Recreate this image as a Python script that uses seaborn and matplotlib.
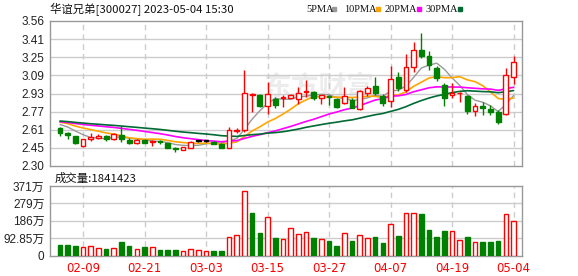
import numpy as np
import pandas as pd
import matplotlib
matplotlib.use("Agg")
import matplotlib.pyplot as plt
import seaborn as sns

# ---------------- data ----------------
dates = ["02-06", "02-07", "02-08", "02-09", "02-10", "02-13", "02-14", "02-15", "02-16", "02-17",
         "02-20", "02-21", "02-22", "02-23", "02-24", "02-27", "02-28", "03-01", "03-02", "03-03",
         "03-06", "03-07", "03-08", "03-09", "03-10", "03-13", "03-14", "03-15", "03-16", "03-17",
         "03-20", "03-21", "03-22", "03-23", "03-24", "03-27", "03-28", "03-29", "03-30", "03-31",
         "04-03", "04-04", "04-06", "04-07", "04-10", "04-11", "04-12", "04-13", "04-14", "04-17",
         "04-18", "04-19", "04-20", "04-21", "04-24", "04-25", "04-26", "04-27", "04-28", "05-04"]

open_ = [2.627, 2.589, 2.560, 2.474, 2.531, 2.540, 2.560, 2.534, 2.569, 2.523,
         2.503, 2.523, 2.511, 2.517, 2.497, 2.453, 2.436, 2.459, 2.520, 2.520,
         2.511, 2.490, 2.459, 2.606, 2.612, 2.918, 2.917, 2.824, 2.882, 2.890,
         2.888, 2.882, 2.946, 2.940, 2.888, 2.905, 2.882, 2.844, 2.873, 2.792,
         2.931, 2.995, 2.905, 2.865, 3.076, 2.960, 3.163, 3.308, 3.256, 3.154,
         3.004, 2.920, 2.930, 2.908, 2.781, 2.824, 2.795, 2.766, 2.752, 3.070]
high = [2.642, 2.592, 2.563, 2.534, 2.584, 2.575, 2.569, 2.584, 2.650, 2.540,
        2.534, 2.534, 2.526, 2.523, 2.503, 2.468, 2.465, 2.514, 2.528, 2.526,
        2.517, 2.500, 2.635, 2.630, 3.134, 2.937, 2.925, 3.033, 2.902, 2.917,
        2.925, 2.989, 3.047, 2.952, 2.917, 2.917, 2.888, 2.989, 2.888, 2.960,
        2.998, 3.076, 2.923, 3.169, 3.114, 3.270, 3.380, 3.453, 3.299, 3.169,
        3.018, 3.018, 2.940, 2.917, 2.844, 2.853, 2.830, 2.786, 3.154, 3.259]
low = [2.563, 2.531, 2.494, 2.465, 2.517, 2.534, 2.517, 2.526, 2.511, 2.491,
       2.494, 2.497, 2.474, 2.491, 2.453, 2.424, 2.436, 2.456, 2.511, 2.508,
       2.488, 2.453, 2.453, 2.584, 2.598, 2.772, 2.815, 2.749, 2.807, 2.815,
       2.888, 2.836, 2.902, 2.873, 2.836, 2.830, 2.807, 2.836, 2.801, 2.786,
       2.911, 2.917, 2.824, 2.815, 2.951, 2.946, 3.120, 3.241, 3.134, 3.038,
       2.824, 2.888, 2.853, 2.749, 2.737, 2.743, 2.743, 2.662, 2.743, 3.012]
close = [2.584, 2.569, 2.497, 2.531, 2.555, 2.563, 2.531, 2.575, 2.534, 2.503,
         2.529, 2.503, 2.517, 2.511, 2.459, 2.445, 2.465, 2.511, 2.520, 2.520,
         2.494, 2.455, 2.612, 2.612, 2.931, 2.925, 2.824, 2.922, 2.830, 2.902,
         2.917, 2.931, 2.952, 2.894, 2.917, 2.900, 2.815, 2.908, 2.807, 2.952,
         2.980, 2.931, 2.850, 3.053, 2.980, 3.157, 3.308, 3.259, 3.177, 3.067,
         2.894, 2.930, 2.935, 2.778, 2.821, 2.807, 2.772, 2.685, 3.091, 3.201]
# closes of the 29 sessions before the window (needed for the moving averages)
prior_close = [2.72, 2.70, 2.71, 2.73, 2.70, 2.69, 2.71, 2.70, 2.68, 2.70,
               2.69, 2.68, 2.70, 2.69, 2.68, 2.67, 2.69, 2.70, 2.68, 2.69,
               2.70, 2.71, 2.70, 2.69, 2.71, 2.68, 2.67, 2.69, 2.68]
volume_wan = [56.7, 56.7, 51.3, 44.0, 49.5, 38.7, 35.1, 38.7, 72.9, 51.3,
              33.3, 45.9, 45.9, 27.9, 29.7, 29.7, 24.3, 33.3, 29.7, 24.3,
              26.1, 26.1, 98.1, 108.9, 346.5, 226.0, 118.0, 206.0, 94.5, 89.0,
              146.7, 114.0, 124.7, 94.5, 87.3, 78.3, 51.3, 119.3, 78.3, 108.9,
              92.7, 99.9, 67.5, 170.1, 104.4, 226.8, 226.8, 223.2, 136.8, 99.9,
              132.3, 130.5, 85.5, 99.9, 72.9, 72.9, 72.9, 78.3, 223.2, 184.1423]

price_tick_labels = ["2.30", "2.45", "2.61", "2.77", "2.93", "3.09", "3.25", "3.41", "3.56"]
vol_tick_labels = ["0", "92.85万", "186万", "279万", "371万"]
label_dates = ["02-09", "02-21", "03-03", "03-15", "03-27", "04-07", "04-19", "05-04"]
ma_windows = [5, 10, 20, 30]
ma_names = ["5PMA", "10PMA", "20PMA", "30PMA"]
title_text = "华谊兄弟[300027] 2023-05-04 15:30"
vol_title = "成交量:1841423"

# ---------------- style ----------------
sns.set_style("white")
plt.rcParams["font.family"] = ["Liberation Sans", "Noto Sans CJK SC", "DejaVu Sans"]

RED = "#ff0000"
GREEN = "#008000"
ma_colors = ["#999999", "#ffa500", "#ff00ff", "#006a35"]
ma_widths = [1.0, 1.2, 1.2, 1.2]

W, H = 578, 276
fig = plt.figure(figsize=(W / 100, H / 100), dpi=100)
fig.patch.set_facecolor("white")

def frac(x0, y0, x1, y1):
    return [x0 / W, 1 - y1 / H, (x1 - x0) / W, (y1 - y0) / H]

axp = fig.add_axes(frac(50, 21, 522, 166))
axv = fig.add_axes(frac(50, 186, 522, 255.5))

df = pd.DataFrame({"date": dates, "open": open_, "high": high, "low": low,
                   "close": close, "vol": volume_wan})
df["i"] = np.arange(len(df))
all_close = pd.Series(prior_close + close)
n = len(df)

# ---------------- price panel ----------------
for w, name, col, lw in zip(ma_windows, ma_names, ma_colors, ma_widths):
    ma = all_close.rolling(w).mean().to_numpy()[-n:]
    sns.lineplot(x=df["i"], y=ma, ax=axp, color=col, lw=lw, zorder=3, legend=False)

for _, r in df.iterrows():
    if r["close"] > r["open"]:
        col, fc = RED, "white"
    elif r["close"] < r["open"]:
        col, fc = GREEN, GREEN
    else:
        col, fc = "black", "black"
    top = max(r["open"], r["close"])
    bot = min(r["open"], r["close"])
    axp.vlines(r["i"], r["low"], bot, color=col, lw=1.0, zorder=4)
    axp.vlines(r["i"], top, r["high"], color=col, lw=1.0, zorder=4)
    hgt = max(top - bot, 0.003)
    axp.bar(r["i"], hgt, bottom=bot, width=0.62, facecolor=fc, edgecolor=col,
            lw=1.0, zorder=5)

ymin, ymax = 2.30, 3.56
axp.set_ylim(ymin, ymax)
axp.set_xlim(-1.3, 60.1)
ptick = np.linspace(ymin, ymax, len(price_tick_labels))
axp.set_yticks(ptick)
axp.set_yticklabels(price_tick_labels)
label_idx = [dates.index(d) for d in label_dates]
axp.set_xticks(label_idx)
axp.set_xticklabels([])
axp.tick_params(axis="x", length=0)
axp.tick_params(axis="y", length=3, color="#999999", labelsize=8.5, pad=1, labelcolor="#222222")
for yv in ptick[1:-1]:
    axp.axhline(yv, color="#cccccc", lw=1, zorder=1)
for xv in label_idx:
    axp.axvline(xv, color="#cccccc", lw=1, ls=(0, (4, 3)), zorder=1)
for s in axp.spines.values():
    s.set_color("#999999")
    s.set_linewidth(1)
axp.text(0.57, 0.54, "东方财富", transform=axp.transAxes, fontsize=20, color="#ececec",
         fontweight="bold", ha="center", va="center", zorder=0,
         family=["Noto Sans CJK SC"])
axp.set_xlabel("")
axp.set_ylabel("")

# ---------------- volume panel ----------------
prev = [prior_close[-1]] + close[:-1]
for i, r in df.iterrows():
    up = r["close"] >= prev[i]
    if up:
        axv.bar(r["i"], r["vol"], width=0.6, facecolor="white", edgecolor=RED, lw=1.0, zorder=3)
    else:
        axv.bar(r["i"], r["vol"], width=0.6, facecolor=GREEN, edgecolor=GREEN, lw=1.0, zorder=3)
vmax = 371.4
axv.set_ylim(0, vmax)
axv.set_xlim(-1.3, 60.1)
vtick = np.linspace(0, vmax, len(vol_tick_labels))
axv.set_yticks(vtick)
axv.set_yticklabels(vol_tick_labels)
axv.set_xticks(label_idx)
axv.set_xticklabels(label_dates, color=RED, fontsize=8.5, family=["DejaVu Sans"])
axv.tick_params(axis="x", length=0, pad=5)
axv.tick_params(axis="y", length=3, color="#999999", labelsize=8.5, pad=1, labelcolor="#222222")
for yv in vtick[1:-1]:
    axv.axhline(yv, color="#cccccc", lw=1, zorder=1)
for xv in label_idx:
    axv.axvline(xv, color="#cccccc", lw=1, ls=(0, (4, 3)), zorder=1)
for s in axv.spines.values():
    s.set_color("#999999")
    s.set_linewidth(1)
axv.set_xlabel("")
axv.set_ylabel("")

# ---------------- texts ----------------
fig.text(50 / W, 1 - 9 / H, title_text, fontsize=8.2, va="center", ha="left",
         color="#111111", family=["Noto Sans CJK SC", "DejaVu Sans"])
fig.text(55 / W, 1 - 178 / H, vol_title, fontsize=8.2, va="center", ha="left",
         color="#111111", family=["Noto Sans CJK SC", "DejaVu Sans"])
leg_x = [306, 344, 385, 426]
for x, name, col in zip(leg_x, ma_names, ma_colors):
    t = fig.text(x / W, 1 - 9 / H, name, fontsize=7.5, va="center", ha="left", color="#111111",
                 family=["Liberation Serif"])
    box_x = x + 6.2 * len(name) + 1
    fig.patches.append(plt.Rectangle((box_x / W, 1 - 11 / H), 4 / W, 4 / H,
                                     transform=fig.transFigure, color=col, figure=fig))

fig.savefig("out.png", dpi=100, facecolor="white")
